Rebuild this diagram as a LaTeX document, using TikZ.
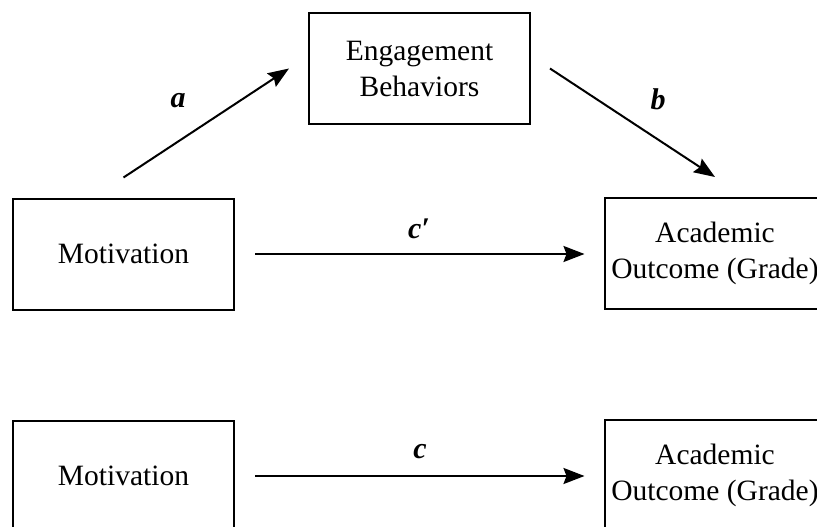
\documentclass[tikz,border=0pt]{standalone}
\usepackage{fontspec}
\setmainfont{Liberation Serif}
\usetikzlibrary{arrows.meta}
\begin{document}
\begin{tikzpicture}[x=1pt,y=-1pt,
  box/.style={draw,line width=2pt,minimum width=221pt,minimum height=111pt,align=center,inner sep=0pt,font=\fontsize{29.5}{36}\selectfont},
  arr/.style={line width=2pt,-{Stealth[length=21pt,width=16pt,inset=3pt]}},
  lab/.style={font=\fontsize{30}{34}\selectfont\bfseries\itshape,inner sep=0pt}]
\useasboundingbox (0,0) rectangle (817,527);
\clip (0,0) rectangle (817,527);
\node[box] (eng) at (419.5,68.5) {Engagement\\Behaviors};
\node[box] (mot1) at (123.5,254) {Motivation};
\node[box] (out1) at (715,253.5) {Academic\\Outcome (Grade)};
\node[box] (mot2) at (123.5,476) {Motivation};
\node[box] (out2) at (715,475.5) {Academic\\Outcome (Grade)};
\coordinate (a0) at ([yshift=20pt]mot1.north);
\coordinate (a1) at ([xshift=-19pt]eng.west);
\coordinate (b0) at ([xshift=19pt]eng.east);
\coordinate (b1) at ([yshift=20pt]out1.north);
\coordinate (c0) at ([xshift=20pt]mot1.east);
\coordinate (c1) at ([xshift=-19pt]mot1.east -| out1.west);
\coordinate (d0) at ([xshift=20pt]mot2.east);
\coordinate (d1) at ([xshift=-19pt]mot2.east -| out2.west);
\draw[arr] (a0) -- (a1);
\draw[arr] (b0) -- (b1);
\draw[arr] (c0) -- (c1);
\draw[arr] (d0) -- (d1);
\node[lab] (la) at (178,101) {a};
\node[lab] (lb) at (658,99) {b};
\node[lab] (lc1) at (419,229) {c′};
\node[lab] (lc2) at (420,452) {c};
\end{tikzpicture}
\end{document}
